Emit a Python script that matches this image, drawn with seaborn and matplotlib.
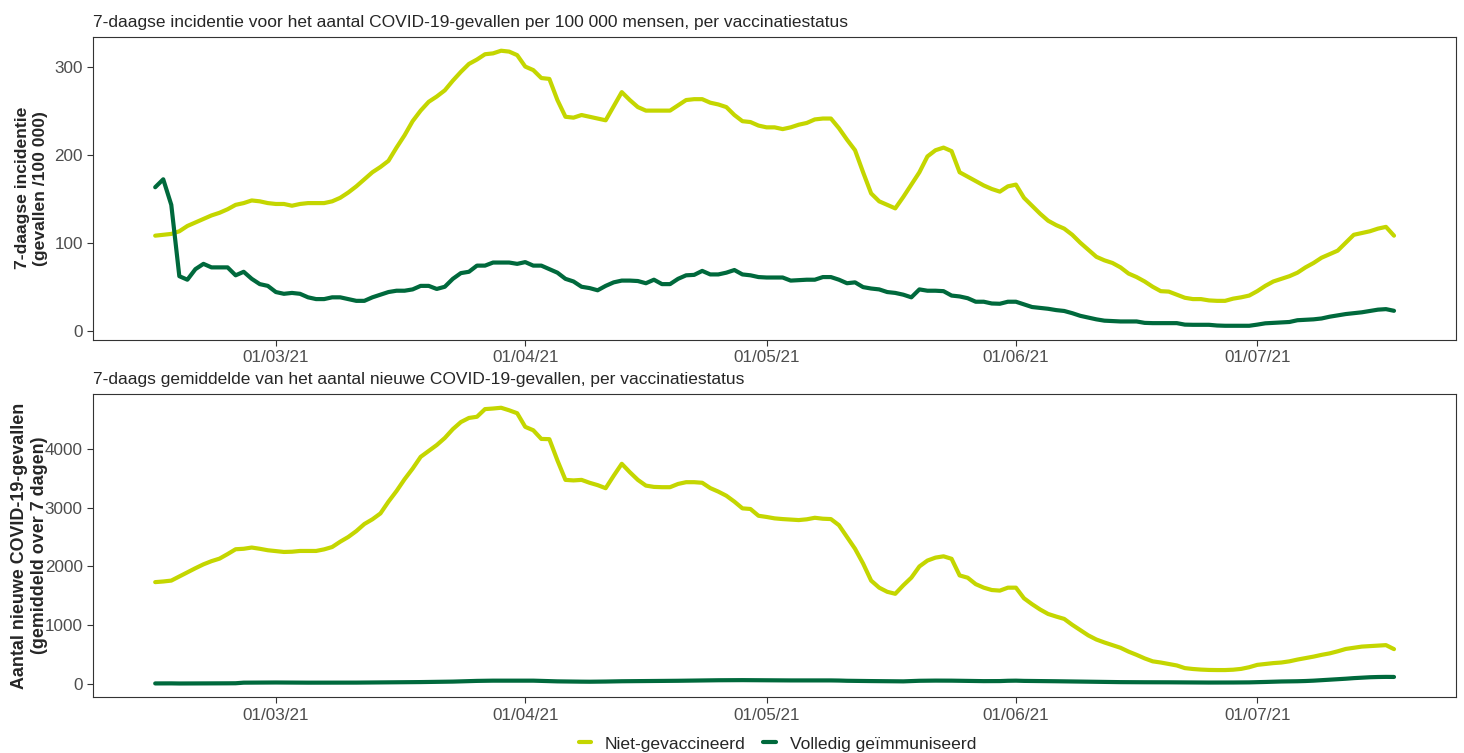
import matplotlib
matplotlib.use("Agg")
import matplotlib.pyplot as plt
import matplotlib.dates as mdates
import numpy as np
import pandas as pd
import seaborn as sns

# dagelijkse reeks 14/02/21 - 18/07/21
datums = pd.date_range("2021-02-14", "2021-07-18", freq="D")

statussen = ["Niet-gevaccineerd", "Volledig geïmmuniseerd"]
kleuren = {"Niet-gevaccineerd": "#C4D600", "Volledig geïmmuniseerd": "#00693C"}

# 7-daagse incidentie per 100 000
incidentie_niet = [108, 109, 110, 113, 119, 123, 127, 131, 134, 138,
                   143, 145, 148, 147, 145, 144, 144, 142, 144, 145,
                   145, 145, 147, 151, 157, 164, 172, 180, 186, 193,
                   208, 222, 238, 250, 260, 266, 273, 284, 294, 303,
                   308, 314, 315, 318, 317, 313, 300, 296, 287, 286,
                   262, 243, 242, 245, 243, 241, 239, 255, 271, 262,
                   254, 250, 250, 250, 250, 256, 262, 263, 263, 259,
                   257, 254, 245, 238, 237, 233, 231, 231, 229, 231,
                   234, 236, 240, 241, 241, 230, 217, 205, 180, 156,
                   147, 143, 139, 152, 166, 180, 198, 205, 208, 204,
                   180, 175, 170, 165, 161, 158, 164, 166, 151, 142,
                   133, 125, 120, 116, 109, 100, 92, 84, 80, 77,
                   72, 65, 61, 56, 50, 45, 44.5, 41, 37.5, 36,
                   36, 34.5, 34, 34, 36.5, 38, 40, 45, 51, 56,
                   59, 62, 66, 72, 77, 83, 87, 91, 100, 109,
                   111, 113, 116, 118, 108]
incidentie_vol = [163, 172, 143, 62, 58, 70, 76, 72, 72, 72,
                  63, 67, 59, 53, 51, 44, 42, 43, 42, 38,
                  36, 36, 38, 38, 36, 34, 34, 38, 41, 44,
                  45.5, 45.5, 47, 51, 51, 47.5, 50, 59, 65.5, 67,
                  74, 74, 77.5, 77.5, 77.5, 76, 78, 74, 74, 70,
                  66, 59, 56, 50, 48.5, 46, 51, 55, 57, 57,
                  56.5, 54, 58, 53, 53, 59, 63, 63.5, 68, 64,
                  64, 66, 69, 64, 63, 61, 60.5, 60.5, 60.5, 57,
                  57.5, 58, 58, 61, 61, 58, 54, 55, 49.6, 48,
                  47, 44, 43, 41, 38, 47, 45.5, 45.5, 45, 40,
                  39, 37, 33, 33, 31, 30.7, 33, 33, 30, 27,
                  26, 25, 23.5, 22.5, 20, 17, 15, 13, 11.5, 11,
                  10.6, 10.6, 10.6, 9, 8.7, 8.7, 8.7, 8.7, 7, 6.8,
                  6.8, 6.8, 6, 5.7, 5.7, 5.7, 5.7, 7, 8.5, 9,
                  9.5, 10, 12, 12.5, 13, 14, 16, 17.5, 19, 20,
                  21, 22.5, 24, 24.6, 22.7]

# 7-daags gemiddelde aantal nieuwe gevallen
gemiddelde_niet = [1734, 1745, 1760, 1830, 1900, 1970, 2036, 2090, 2133, 2210,
                   2292, 2300, 2321, 2300, 2275, 2260, 2246, 2250, 2263, 2263,
                   2263, 2290, 2330, 2420, 2500, 2600, 2720, 2800, 2900, 3100,
                   3280, 3480, 3660, 3860, 3960, 4060, 4180, 4330, 4450, 4520,
                   4540, 4670, 4680, 4693, 4650, 4600, 4369, 4311, 4164, 4160,
                   3800, 3469, 3460, 3469, 3420, 3380, 3328, 3540, 3742, 3600,
                   3469, 3372, 3350, 3345, 3345, 3400, 3430, 3430, 3420, 3330,
                   3270, 3200, 3100, 2986, 2975, 2860, 2840, 2816, 2804, 2795,
                   2787, 2800, 2826, 2810, 2804, 2700, 2500, 2300, 2050, 1760,
                   1640, 1570, 1536, 1680, 1810, 2000, 2100, 2150, 2172, 2130,
                   1848, 1809, 1700, 1640, 1600, 1590, 1640, 1640, 1460, 1360,
                   1270, 1194, 1150, 1110, 1010, 920, 830, 760, 710, 665,
                   620, 555, 500, 440, 390, 370, 345, 320, 275, 260,
                   250, 244, 242, 242, 248, 262, 290, 330, 345, 360,
                   370, 390, 420, 445, 470, 500, 525, 560, 600, 620,
                   640, 648, 655, 665, 597]
gemiddelde_vol = [15, 16, 16, 14, 14, 15, 16, 16, 16, 17, 18,
                  28, 29, 30, 31, 31, 30, 30, 29, 28, 28, 29, 29, 28, 28, 29, 30,
                  31, 32, 33, 34, 35, 37, 38, 40, 42, 44,
                  46, 50, 54, 58,
                  60, 62, 62, 63, 63, 62, 62, 58, 55,
                  50, 48, 46, 45, 44, 45, 47, 50,
                  52, 53, 54, 54, 55, 56, 58, 60, 62, 64,
                  66, 68, 69, 70, 70, 71, 70, 69, 68, 68, 67, 66, 66, 66, 67, 67, 66, 64,
                  60, 58, 56, 55, 54, 52, 51, 50,
                  55, 60, 62, 63, 63, 62, 60,
                  58, 56, 54, 54, 55,
                  60, 62, 58,
                  56, 55, 54, 52, 50, 48, 46,
                  44, 42, 40, 38, 37, 36, 36, 35, 35, 34, 34,
                  33, 32, 31, 30, 30, 30, 30, 31, 32, 33,
                  36, 40, 44, 48, 50, 52,
                  56, 62, 70,
                  78, 86, 95,
                  105, 112,
                  120, 124, 126, 125]

df = pd.DataFrame({
    "datum": np.concatenate([datums, datums]),
    "status": [statussen[0]] * len(datums) + [statussen[1]] * len(datums),
    "incidentie": incidentie_niet + incidentie_vol,
    "gemiddelde": gemiddelde_niet + gemiddelde_vol,
})

sns.set_style("white")
plt.rcParams["font.family"] = ["Liberation Sans", "DejaVu Sans"]

fig = plt.figure(figsize=(14.64, 7.53), dpi=100)
ax1 = fig.add_axes([0.0637, 0.5491, 0.9308, 0.4018])
ax2 = fig.add_axes([0.0637, 0.0740, 0.9308, 0.4028])

panelen = [
    (ax1, "incidentie", "7-daagse incidentie voor het aantal COVID-19-gevallen per 100 000 mensen, per vaccinatiestatus",
     "7-daagse incidentie\n(gevallen /100 000)", [0, 100, 200, 300], 12.6),
    (ax2, "gemiddelde", "7-daags gemiddelde van het aantal nieuwe COVID-19-gevallen, per vaccinatiestatus",
     "Aantal nieuwe COVID-19-gevallen\n(gemiddeld over 7 dagen)", [0, 1000, 2000, 3000, 4000], 12.9),
]

span = datums[-1] - datums[0]
for ax, kolom, titel, ylabel, yticks, lsize in panelen:
    sns.lineplot(data=df, x="datum", y=kolom, hue="status", hue_order=statussen,
                 palette=kleuren, linewidth=3.0, ax=ax)
    lo, hi = df[kolom].min(), df[kolom].max()
    pad = 0.05 * (hi - lo)
    ax.set_ylim(lo - pad, hi + pad)
    ax.set_xlim(datums[0] - span * 0.05, datums[-1] + span * 0.05)
    ax.set_yticks(yticks)
    ax.xaxis.set_major_locator(mdates.MonthLocator(bymonthday=1))
    ax.xaxis.set_major_formatter(mdates.DateFormatter("%d/%m/%y"))
    ax.set_xlabel("")
    ax.set_ylabel(ylabel, fontsize=lsize, fontweight="bold")
    ax.yaxis.set_label_coords(-0.0335, 0.5)
    ax.set_title(titel, loc="left", fontsize=12.5, pad=7)
    ax.tick_params(axis="both", labelsize=12.3, labelcolor="#4D4D4D", color="#333333",
                   length=4, width=0.8, left=True, bottom=True)
    for sp in ax.spines.values():
        sp.set_color("#333333")
        sp.set_linewidth(0.8)
    ax.grid(False)

handles, labels = ax1.get_legend_handles_labels()
ax1.get_legend().remove()
ax2.get_legend().remove()
fig.legend(handles, labels, loc="lower center", bbox_to_anchor=(0.531, -0.019), ncol=2,
           frameon=False, fontsize=12.6, handlelength=0.7, handletextpad=0.8, columnspacing=1.0)

plt.savefig("out.png", dpi=100)
